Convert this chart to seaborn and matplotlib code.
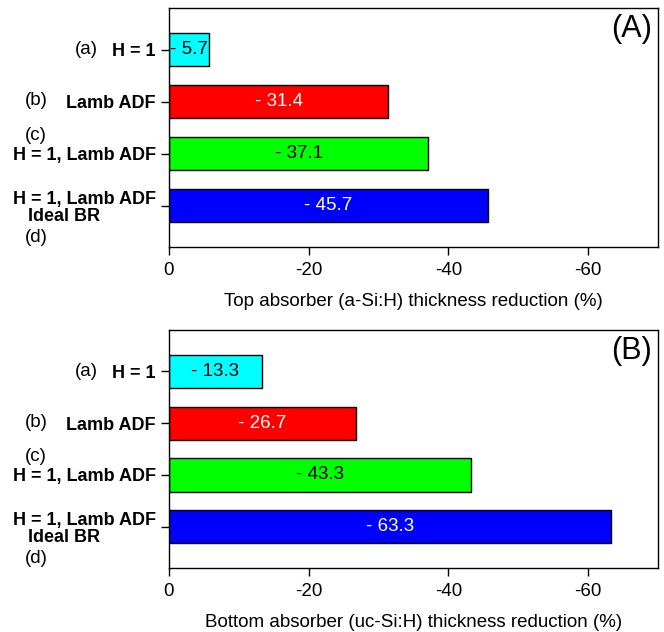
"""Thickness reduction bar charts (A: top absorber, B: bottom absorber)."""

import matplotlib

matplotlib.use("Agg")

import matplotlib.pyplot as plt
import pandas as pd
import seaborn as sns

# data
categories = ["H = 1", "Lamb ADF", "H = 1, Lamb ADF", "H = 1, Lamb ADF\n   Ideal BR"]
letters = ["(a)", "(b)", "(c)", "(d)"]
top_reduction = [-5.7, -31.4, -37.1, -45.7]
bottom_reduction = [-13.3, -26.7, -43.3, -63.3]
bar_colors = ["#00ffff", "#ff0000", "#00ff00", "#0000ff"]
text_colors = ["black", "white", "black", "white"]
xticks = [0, -20, -40, -60]

sns.set_style("ticks")
plt.rcParams["font.family"] = ["Liberation Sans", "DejaVu Sans"]
plt.rcParams["axes.unicode_minus"] = False
plt.rcParams["text.color"] = "black"
plt.rcParams["axes.labelcolor"] = "black"
plt.rcParams["xtick.color"] = "black"
plt.rcParams["ytick.color"] = "black"

fig = plt.figure(figsize=(6.64, 6.32), dpi=100)
ax_a = fig.add_axes([0.2545, 0.609, 0.7365, 0.378])
ax_b = fig.add_axes([0.2545, 0.101, 0.7365, 0.377])


def draw_panel(ax, values, xlabel, tag):
    df = pd.DataFrame({"cat": categories, "val": values})
    sns.barplot(
        data=df,
        x="val",
        y="cat",
        hue="cat",
        palette=bar_colors,
        saturation=1,
        legend=False,
        orient="h",
        width=0.64,
        edgecolor="black",
        linewidth=1.0,
        ax=ax,
    )
    ax.set_xlim(0, -70)
    ax.set_ylim(3.8, -0.8)
    ax.set_xticks(xticks)
    ax.set_xticklabels([str(t) for t in xticks], fontsize=13.5)
    ax.set_yticks(range(len(categories)))
    ax.set_yticklabels(categories, fontsize=13, fontweight="bold",
                       multialignment="left", linespacing=1.0)
    ax.tick_params(direction="out", length=6, width=1, color="black")
    ax.tick_params(axis="x", pad=5)
    ax.set_xlabel(xlabel, fontsize=13.5, labelpad=10)
    ax.set_ylabel("")
    for sp in ax.spines.values():
        sp.set_visible(True)
        sp.set_linewidth(1.0)
        sp.set_color("black")

    # value labels inside bars
    for i, v in enumerate(values):
        ax.text(v / 2, i, f"- {abs(v):.1f}", ha="center", va="center",
                fontsize=13.5, color=text_colors[i])

    # (a)-(d) labels
    tr = ax.get_yaxis_transform()
    ax.text(-0.168, 0, letters[0], transform=tr, ha="center", va="center", fontsize=13.5)
    ax.text(-0.272, 0.98, letters[1], transform=tr, ha="center", va="center", fontsize=13.5)
    ax.text(-0.272, 1.65, letters[2], transform=tr, ha="center", va="center", fontsize=13.5)
    ax.text(-0.272, 3.62, letters[3], transform=tr, ha="center", va="center", fontsize=13.5)

    ax.text(0.988, 0.975, tag, transform=ax.transAxes, ha="right", va="top",
            fontsize=22)


draw_panel(ax_a, top_reduction, "Top absorber (a-Si:H) thickness reduction (%)", "(A)")
draw_panel(ax_b, bottom_reduction, "Bottom absorber (uc-Si:H) thickness reduction (%)", "(B)")

fig.savefig("out.png", dpi=100)
